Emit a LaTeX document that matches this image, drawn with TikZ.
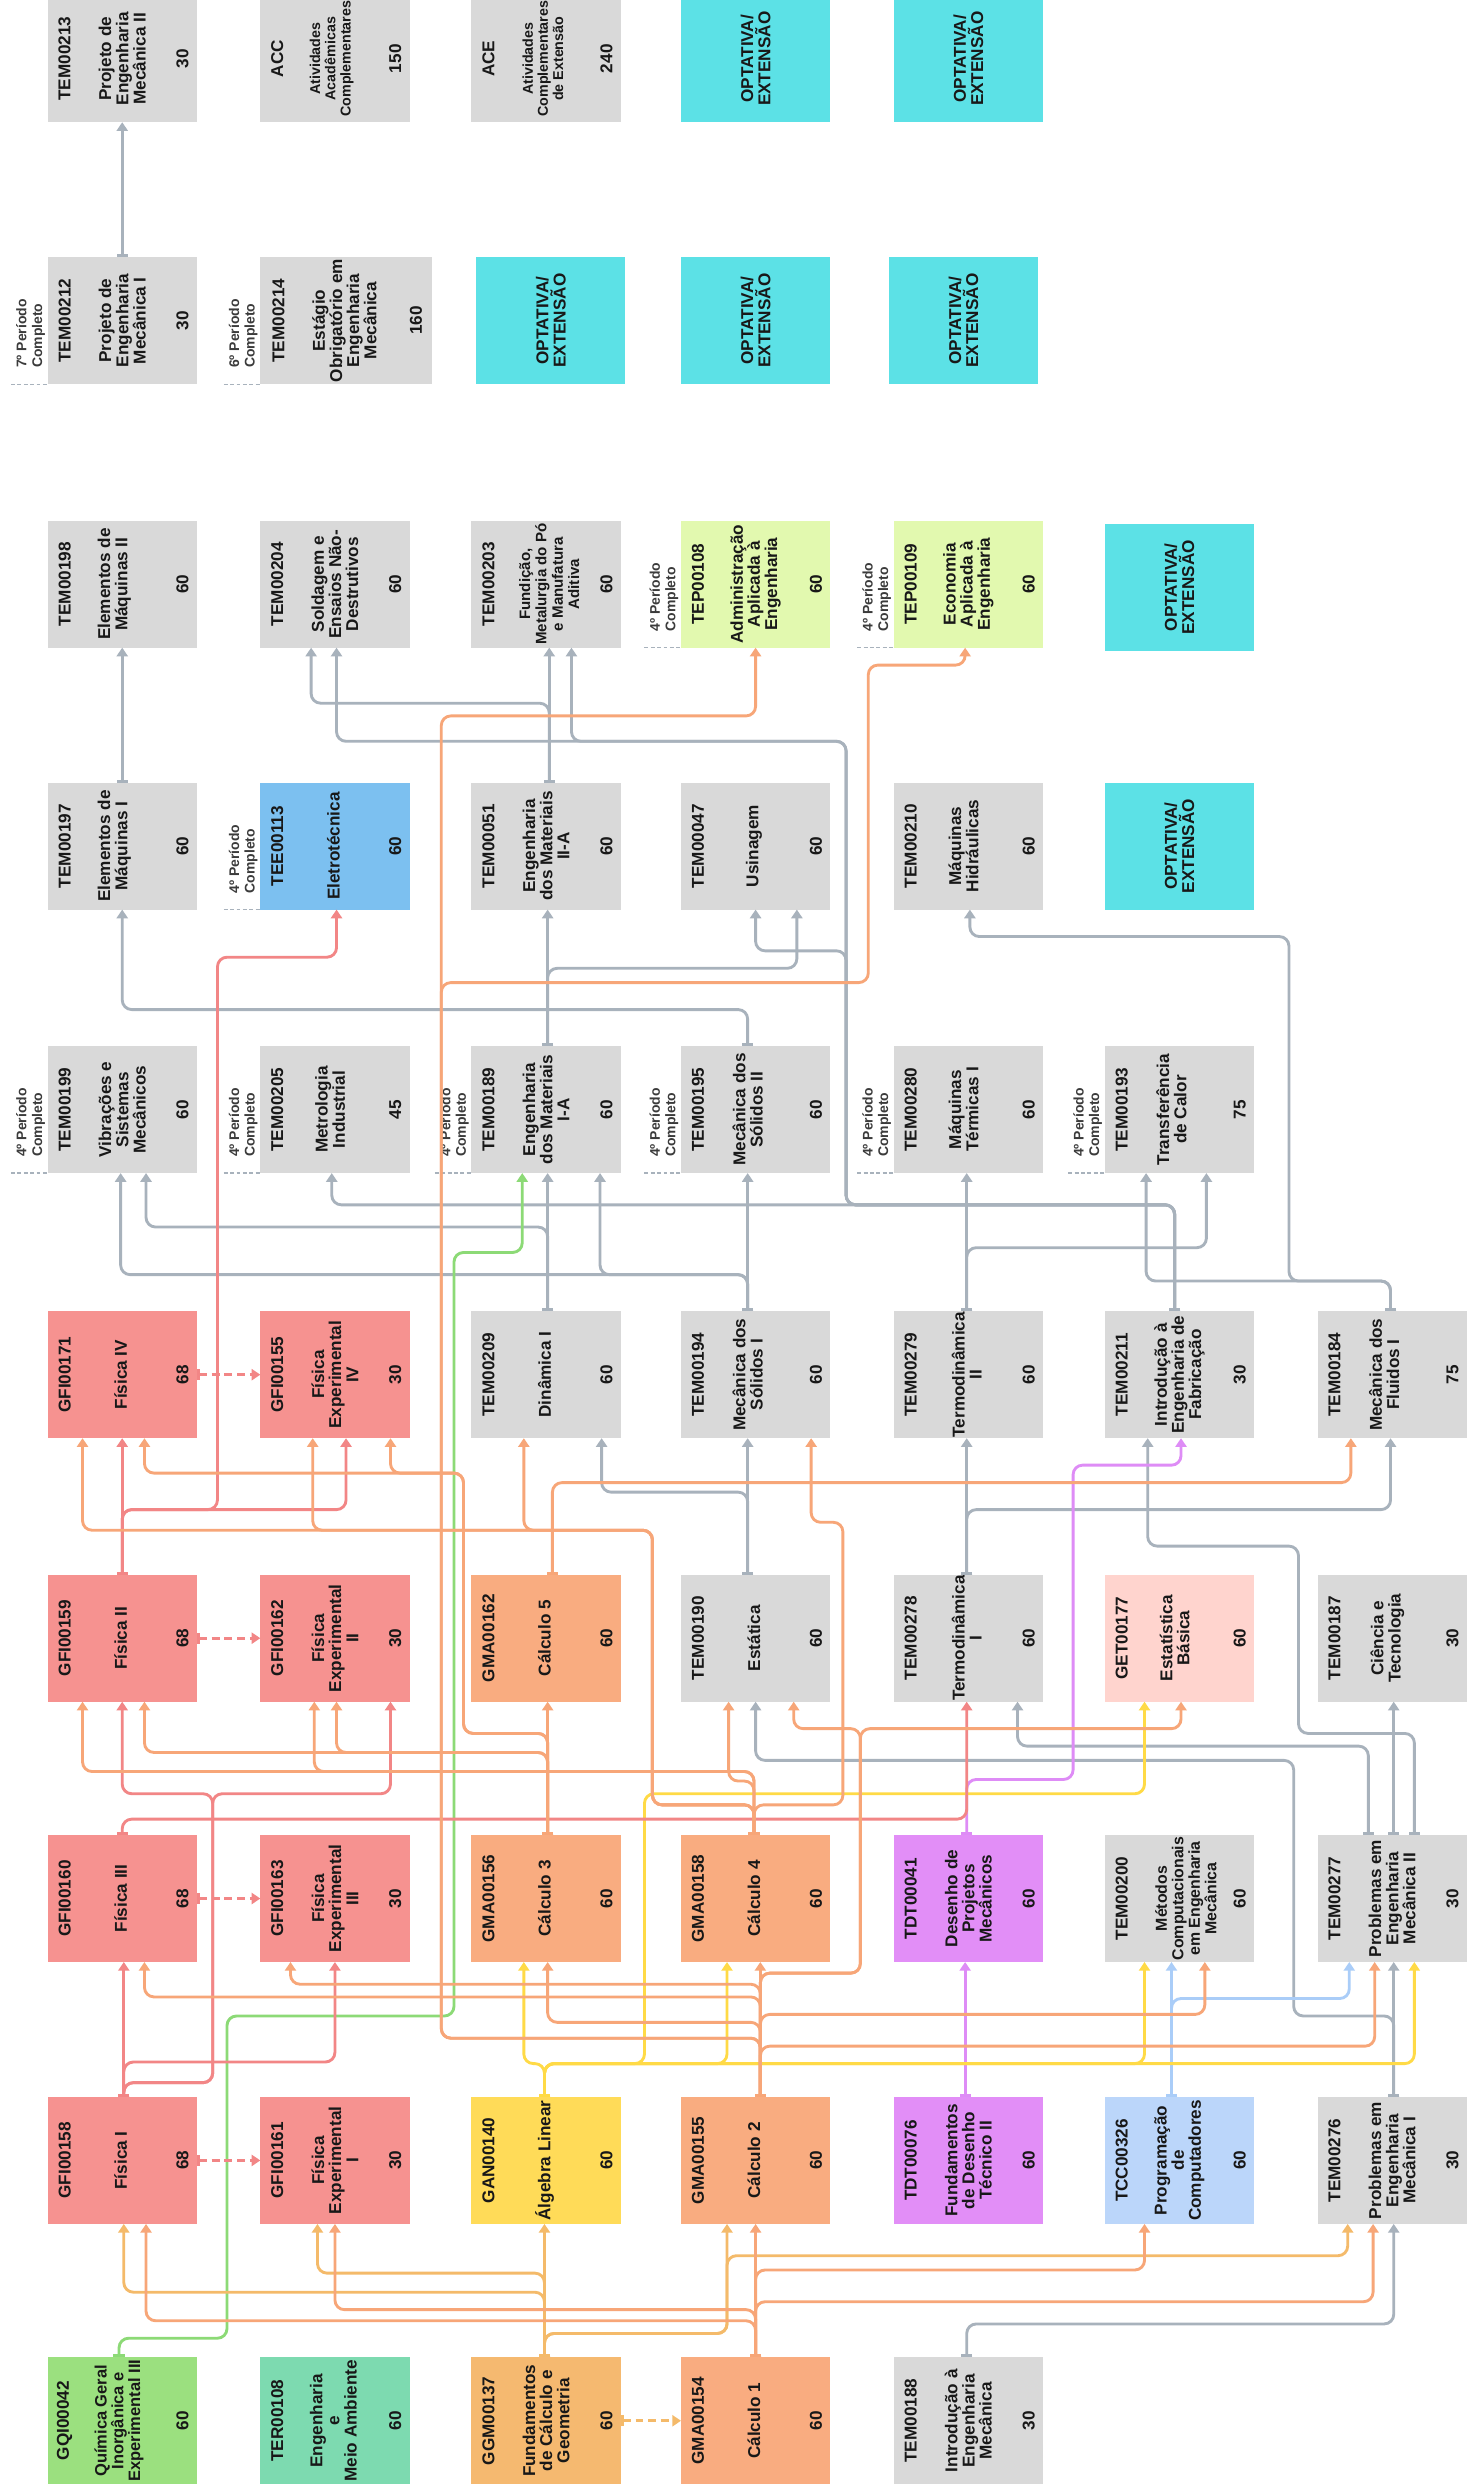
\documentclass[tikz,border=0pt]{standalone}
\usepackage{fontspec}
\setmainfont{Liberation Sans}
\usetikzlibrary{arrows.meta}

\definecolor{ink}{RGB}{24,24,24}
\definecolor{cGrey}{RGB}{217,217,217}
\definecolor{cRed}{RGB}{246,146,144}
\definecolor{cSal}{RGB}{249,172,128}
\definecolor{cAmb}{RGB}{245,185,112}
\definecolor{cYel}{RGB}{255,219,88}
\definecolor{cGrn}{RGB}{155,224,127}
\definecolor{cMint}{RGB}{125,218,176}
\definecolor{cVio}{RGB}{226,142,247}
\definecolor{cLBlu}{RGB}{187,214,250}
\definecolor{cBlu}{RGB}{124,192,240}
\definecolor{cPink}{RGB}{255,212,206}
\definecolor{cLime}{RGB}{226,249,175}
\definecolor{cCyan}{RGB}{92,225,230}
\definecolor{lGrey}{RGB}{168,178,188}
\definecolor{lSal}{RGB}{247,166,120}
\definecolor{lAmb}{RGB}{244,186,106}
\definecolor{lRed}{RGB}{242,134,134}
\definecolor{lYel}{RGB}{255,218,70}
\definecolor{lVio}{RGB}{222,140,246}
\definecolor{lBlu}{RGB}{170,205,248}
\definecolor{lGrn}{RGB}{140,218,118}

\tikzset{
  box/.style={rectangle, inner sep=0pt, outer sep=0pt, minimum width=94pt, minimum height=80pt},
  txt/.style={rotate=90, inner sep=0pt, align=center, text=ink, font=\bfseries\fontsize{10.8}{10.8}\selectfont},
  pclab/.style={rotate=90, inner sep=0pt, align=left, text=ink!85, font=\bfseries\fontsize{8.8}{9.8}\selectfont},
  pcdash/.style={draw=lGrey, line width=0.8pt, dash pattern=on 2.5pt off 1.5pt},
  conn/.style={line width=1.8pt, rounded corners=6pt, arrows={Bar[width=7pt]-Triangle[length=5.5pt,width=7pt]}},
  gline/.style={conn, draw=lGrey},
  sline/.style={conn, draw=lSal},
  aline/.style={conn, draw=lAmb},
  rline/.style={conn, draw=lRed},
  yline/.style={conn, draw=lYel},
  vline/.style={conn, draw=lVio},
  bline/.style={conn, draw=lBlu},
  qline/.style={conn, draw=lGrn},
  rdash/.style={conn, draw=lRed, dash pattern=on 5pt off 3pt},
  adash/.style={conn, draw=lAmb, dash pattern=on 5pt off 3pt},
}

\newcommand\Course[9][]{%
  \node[box,fill=#5] (#2) at (#3,#4) {};
  \node[txt] (#2c) at ([xshift=10.7pt]#2.west) {#6};
  \node[txt,#1] (#2t) at ([xshift=#9pt]#2.west) {#7};
  \node[txt] (#2h) at ([xshift=85pt]#2.west) {#8};
}
\newcommand\PerComp[2]{%
  \node[pclab, anchor=south west] (#1pc) at ([xshift=-1.5pt,yshift=10pt]#1.south west) {#2º Período\\Completo};
  \draw[pcdash] ([xshift=-23pt]#1.south west) -- (#1.south west);
}
\newcommand\Optativa[3]{%
  \node[box,fill=cCyan] (#1) at (#2,#3) {};
  \node[txt] (#1t) at (#1) {OPTATIVA/\\EXTENSÃO};
}

\begin{document}
\begin{tikzpicture}[x=1pt,y=-1pt]
\fill[white] (0,0) rectangle (929,1568);
\useasboundingbox (0,0) rectangle (929,1568);

% ---------- Period 1
\Course[font=\bfseries\fontsize{10.4}{10.6}\selectfont]{QUI}{77}{1525}{cGrn}{GQI00042}{Química Geral\\Inorgânica e\\Experimental III}{60}{45}
\Course{TER}{211}{1525}{cMint}{TER00108}{Engenharia\\e\\Meio Ambiente}{60}{46}
\Course{GGM}{344}{1525}{cAmb}{GGM00137}{Fundamentos\\de Cálculo e\\Geometria}{60}{47}
\Course{C1}{476}{1525}{cSal}{GMA00154}{Cálculo 1}{60}{46}
\Course{IEM}{610}{1525}{cGrey}{TEM00188}{Introdução à\\Engenharia\\Mecânica}{30}{47}
% ---------- Period 2
\Course{F1}{77}{1361}{cRed}{GFI00158}{Física I}{68}{46}
\Course{FE1}{211}{1361}{cRed}{GFI00161}{Física\\Experimental\\I}{30}{47}
\Course{AL}{344}{1361}{cYel}{GAN00140}{Álgebra Linear}{60}{46}
\Course{C2}{476}{1361}{cSal}{GMA00155}{Cálculo 2}{60}{46}
\Course{FDT}{610}{1361}{cVio}{TDT00076}{Fundamentos\\de Desenho\\Técnico II}{60}{47}
\Course{PROG}{743}{1361}{cLBlu}{TCC00326}{Programação\\de\\Computadores}{60}{47}
\Course{PEM1}{877}{1361}{cGrey}{TEM00276}{Problemas em\\Engenharia\\Mecânica I}{30}{47}
% ---------- Period 3
\Course{F3}{77}{1196}{cRed}{GFI00160}{Física III}{68}{46}
\Course{FE3}{211}{1196}{cRed}{GFI00163}{Física\\Experimental\\III}{30}{47}
\Course{C3}{344}{1196}{cSal}{GMA00156}{Cálculo 3}{60}{46}
\Course{C4}{476}{1196}{cSal}{GMA00158}{Cálculo 4}{60}{46}
\Course{DPM}{610}{1196}{cVio}{TDT00041}{Desenho de\\Projetos\\Mecânicos}{60}{47}
\Course[font=\bfseries\fontsize{10}{10.4}\selectfont]{MCEM}{743}{1196}{cGrey}{TEM00200}{Métodos\\Computacionais\\em Engenharia\\Mecânica}{60}{51}
\Course{PEM2}{877}{1196}{cGrey}{TEM00277}{Problemas em\\Engenharia\\Mecânica II}{30}{47}
% ---------- Period 4
\Course{F2}{77}{1032}{cRed}{GFI00159}{Física II}{68}{46}
\Course{FE2}{211}{1032}{cRed}{GFI00162}{Física\\Experimental\\II}{30}{47}
\Course{C5}{344}{1032}{cSal}{GMA00162}{Cálculo 5}{60}{46}
\Course{EST}{476}{1032}{cGrey}{TEM00190}{Estática}{60}{46}
\Course{TD1}{610}{1032}{cGrey}{TEM00278}{Termodinâmica\\I}{60}{46}
\Course{ESTB}{743}{1032}{cPink}{GET00177}{Estatística\\Básica}{60}{44}
\Course{CT}{877}{1032}{cGrey}{TEM00187}{Ciência e\\Tecnologia}{30}{44}
% ---------- Period 5
\Course{F4}{77}{866}{cRed}{GFI00171}{Física IV}{68}{46}
\Course{FE4}{211}{866}{cRed}{GFI00155}{Física\\Experimental\\IV}{30}{47}
\Course{DIN}{344}{866}{cGrey}{TEM00209}{Dinâmica I}{60}{46}
\Course{MS1}{476}{866}{cGrey}{TEM00194}{Mecânica dos\\Sólidos I}{60}{42}
\Course{TD2}{610}{866}{cGrey}{TEM00279}{Termodinâmica\\II}{60}{46}
\Course{IEF}{743}{866}{cGrey}{TEM00211}{Introdução à\\Engenharia de\\Fabricação}{30}{47}
\Course{MF1}{877}{866}{cGrey}{TEM00184}{Mecânica dos\\Fluidos I}{75}{42}
% ---------- Period 6
\Course{VIB}{77}{699}{cGrey}{TEM00199}{Vibrações e\\Sistemas\\Mecânicos}{60}{47}
\Course{MET}{211}{699}{cGrey}{TEM00205}{Metrologia\\Industrial}{45}{44}
\Course{EM1}{344}{699}{cGrey}{TEM00189}{Engenharia\\dos Materiais\\I-A}{60}{47}
\Course{MS2}{476}{699}{cGrey}{TEM00195}{Mecânica dos\\Sólidos II}{60}{42}
\Course{MT1}{610}{699}{cGrey}{TEM00280}{Máquinas\\Térmicas I}{60}{44}
\Course{TC}{743}{699}{cGrey}{TEM00193}{Transferência\\de Calor}{75}{42}
% ---------- Period 7
\Course{EL1}{77}{533}{cGrey}{TEM00197}{Elementos de\\Máquinas I}{60}{42}
\Course{ELT}{211}{533}{cBlu}{TEE00113}{Eletrotécnica}{60}{46}
\Course{EM2}{344}{533}{cGrey}{TEM00051}{Engenharia\\dos Materiais\\II-A}{60}{47}
\Course{USI}{476}{533}{cGrey}{TEM00047}{Usinagem}{60}{46}
\Course{MH}{610}{533}{cGrey}{TEM00210}{Máquinas\\Hidráulicas}{60}{44}
\Optativa{OPA}{743}{533}
% ---------- Period 8
\Course{EL2}{77}{368}{cGrey}{TEM00198}{Elementos de\\Máquinas II}{60}{42}
\Course{SOL}{211}{368}{cGrey}{TEM00204}{Soldagem e\\Ensaios Não-\\Destrutivos}{60}{47}
\Course[font=\bfseries\fontsize{9.5}{10.3}\selectfont]{FUN}{344}{368}{cGrey}{TEM00203}{Fundição,\\Metalurgia do Pó\\e Manufatura\\Aditiva}{60}{49}
\Course{ADM}{476}{368}{cLime}{TEP00108}{Administração\\Aplicada à\\Engenharia}{60}{47}
\Course{ECO}{610}{368}{cLime}{TEP00109}{Economia\\Aplicada à\\Engenharia}{60}{47}
\Optativa{OPB}{743}{370}
% ---------- Period 9
\Course{PJ1}{77}{202}{cGrey}{TEM00212}{Projeto de\\Engenharia\\Mecânica I}{30}{47}
\node[box, fill=cGrey, minimum width=108pt] (ESTG) at (218,202) {};
\node[txt] (ESTGc) at ([xshift=11.5pt]ESTG.west) {TEM00214};
\node[txt] (ESTGt) at ([xshift=53pt]ESTG.west) {Estágio\\Obrigatório em\\Engenharia\\Mecânica};
\node[txt] (ESTGh) at ([xshift=98pt]ESTG.west) {160};
\Optativa{OPC}{347}{202}
\Optativa{OPD}{476}{202}
\Optativa{OPE}{607}{202}
% ---------- Period 10
\Course{PJ2}{77}{37}{cGrey}{TEM00213}{Projeto de\\Engenharia\\Mecânica II}{30}{47}
\Course[font=\bfseries\fontsize{9}{9.6}\selectfont]{ACC}{211}{37}{cGrey}{ACC}{Atividades\\Acadêmicas\\Complementares}{150}{45}
\Course[font=\bfseries\fontsize{9}{9.6}\selectfont]{ACE}{344}{37}{cGrey}{ACE}{Atividades\\Complementares\\de Extensão}{240}{45}
\Optativa{OPF}{476}{37}
\Optativa{OPG}{610}{37}

% ---------- period-complete labels
\PerComp{VIB}{4}
\PerComp{MET}{4}
\PerComp{EM1}{4}
\PerComp{MS2}{4}
\PerComp{MT1}{4}
\PerComp{TC}{4}
\PerComp{ELT}{4}
\PerComp{ADM}{4}
\PerComp{ECO}{4}
\PerComp{PJ1}{7}
\PerComp{ESTG}{6}

% ---------- grey connectors
\draw[gline] (PJ1.north -| 77,0) -- (PJ2.south -| 77,0);
\draw[gline] (EL1.north -| 77,0) -- (EL2.south -| 77,0);
\draw[gline] (MS2.north -| 471,0) -- (471,636) -- (77,636) -- (EL1.south -| 77,0);
\draw[gline] (EM1.north -| 345,0) -- (EM2.south -| 345,0);
\draw[gline] (EM1.north -| 345,0) -- (345,610) -- (502,610) -- (USI.south -| 502,0);
\draw[gline] (EM2.north -| 346,0) -- (FUN.south -| 346,0);
\draw[gline] (EM2.north -| 346,0) -- (346,443) -- (196,443) -- (SOL.south -| 196,0);
\draw[gline] (IEF.north -| 740,0) -- (740,759) -- (533,759) -- (533,467) -- (212,467) -- (SOL.south -| 212,0);
\draw[gline] (IEF.north -| 740,0) -- (740,759) -- (533,759) -- (533,467) -- (360,467) -- (FUN.south -| 360,0);
\draw[gline] (IEF.north -| 740,0) -- (740,759) -- (533,759) -- (533,599) -- (476,599) -- (USI.south -| 476,0);
\draw[gline] (IEF.north -| 740,0) -- (740,759) -- (209,759) -- (MET.south -| 209,0);
\draw[gline] (DIN.north -| 345,0) -- (345,773) -- (92,773) -- (VIB.south -| 92,0);
\draw[gline] (DIN.north -| 345,0) -- (EM1.south -| 345,0);
\draw[gline] (MS1.north -| 471,0) -- (471,803) -- (76,803) -- (VIB.south -| 76,0);
\draw[gline] (MS1.north -| 471,0) -- (471,803) -- (378,803) -- (EM1.south -| 378,0);
\draw[gline] (MS1.north -| 471,0) -- (MS2.south -| 471,0);
\draw[gline] (TD2.north -| 609,0) -- (MT1.south -| 609,0);
\draw[gline] (TD2.north -| 609,0) -- (609,786) -- (760,786) -- (TC.south -| 760,0);
\draw[gline] (MF1.north -| 876,0) -- (876,807) -- (722,807) -- (TC.south -| 722,0);
\draw[gline] (MF1.north -| 876,0) -- (876,807) -- (812,807) -- (812,590) -- (611,590) -- (MH.south -| 611,0);
\draw[gline] (TD1.north -| 609,0) -- (TD2.south -| 609,0);
\draw[gline] (TD1.north -| 609,0) -- (609,951) -- (876,951) -- (MF1.south -| 876,0);
\draw[gline] (EST.north -| 471,0) -- (MS1.south -| 471,0);
\draw[gline] (EST.north -| 471,0) -- (471,940) -- (379,940) -- (DIN.south -| 379,0);
\draw[gline] (PEM2.north -| 878,0) -- (CT.south -| 878,0);
\draw[gline] (PEM2.north -| 891,0) -- (891,1092) -- (818,1092) -- (818,974) -- (723,974) -- (IEF.south -| 723,0);
\draw[gline] (PEM2.north -| 862,0) -- (862,1100) -- (641,1100) -- (TD1.south -| 641,0);
\draw[gline] (PEM1.north -| 878,0) -- (PEM2.south -| 878,0);
\draw[gline] (PEM1.north -| 878,0) -- (878,1270) -- (815,1270) -- (815,1109) -- (476,1109) -- (EST.south -| 476,0);
\draw[gline] (IEM.north -| 609,0) -- (609,1464) -- (878,1464) -- (PEM1.south -| 878,0);

% ---------- blue, violet, green
\draw[bline] (PROG.north -| 738,0) -- (MCEM.south -| 738,0);
\draw[bline] (PROG.north -| 738,0) -- (738,1259) -- (850,1259) -- (PEM2.south -| 850,0);
\draw[vline] (FDT.north -| 608,0) -- (DPM.south -| 608,0);
\draw[vline] (DPM.north -| 609,0) -- (609,1121) -- (676,1121) -- (676,923) -- (744,923) -- (IEF.south -| 744,0);
\draw[qline] (QUI.north -| 75,0) -- (75,1473) -- (143,1473) -- (143,1270) -- (286,1270) -- (286,789) -- (329,789) -- (EM1.south -| 329,0);

% ---------- yellow (Algebra Linear)
\draw[yline] (AL.north -| 343,0) -- (343,1300) -- (330,1300) -- (C3.south -| 330,0);
\draw[yline] (AL.north -| 343,0) -- (343,1300) -- (458,1300) -- (C4.south -| 458,0);
\draw[yline] (AL.north -| 343,0) -- (343,1300) -- (721,1300) -- (MCEM.south -| 721,0);
\draw[yline] (AL.north -| 343,0) -- (343,1300) -- (891,1300) -- (PEM2.south -| 891,0);
\draw[yline] (AL.north -| 343,0) -- (343,1300) -- (406,1300) -- (406,1130) -- (721,1130) -- (ESTB.south -| 721,0);

% ---------- red (Fisica)
\draw[rline] (F1.north -| 78,0) -- (F3.south -| 78,0);
\draw[rline] (F1.north -| 78,0) -- (78,1299) -- (211,1299) -- (FE3.south -| 211,0);
\draw[rline] (F1.north -| 78,0) -- (78,1312) -- (134,1312) -- (134,1130) -- (77,1130) -- (F2.south -| 77,0);
\draw[rline] (F1.north -| 78,0) -- (78,1312) -- (134,1312) -- (134,1130) -- (246,1130) -- (FE2.south -| 246,0);
\draw[rline] (F2.north -| 77,0) -- (F4.south -| 77,0);
\draw[rline] (F2.north -| 77,0) -- (77,951) -- (218,951) -- (FE4.south -| 218,0);
\draw[rline] (F2.north -| 77,0) -- (77,951) -- (137,951) -- (137,603) -- (212,603) -- (ELT.south -| 212,0);
\draw[rline] (F3.north -| 77,0) -- (77,1146) -- (609,1146) -- (TD1.south -| 609,0);
\draw[rdash] (F1.east) -- (FE1.west);
\draw[rdash] (F3.east) -- (FE3.west);
\draw[rdash] (F2.east) -- (FE2.west);
\draw[rdash] (F4.east) -- (FE4.west);

% ---------- amber (GGM00137)
\draw[adash] (GGM.east) -- (C1.west);
\draw[aline] (GGM.north -| 343,0) -- (AL.south -| 343,0);
\draw[aline] (GGM.north -| 343,0) -- (343,1432) -- (200,1432) -- (FE1.south -| 200,0);
\draw[aline] (GGM.north -| 343,0) -- (343,1444) -- (78,1444) -- (F1.south -| 78,0);
\draw[aline] (GGM.north -| 343,0) -- (343,1470) -- (458,1470) -- (C2.south -| 458,0);
\draw[aline] (GGM.north -| 343,0) -- (343,1470) -- (458,1470) -- (458,1421) -- (849,1421) -- (PEM1.south -| 849,0);

% ---------- salmon (Calculo)
\draw[sline] (C1.north -| 476,0) -- (C2.south -| 476,0);
\draw[sline] (C1.north -| 476,0) -- (476,1455) -- (211,1455) -- (FE1.south -| 211,0);
\draw[sline] (C1.north -| 476,0) -- (476,1462) -- (92,1462) -- (F1.south -| 92,0);
\draw[sline] (C1.north -| 476,0) -- (476,1430) -- (721,1430) -- (PROG.south -| 721,0);
\draw[sline] (C1.north -| 476,0) -- (476,1450) -- (865,1450) -- (PEM1.south -| 865,0);

\draw[sline] (C2.north -| 479,0) -- (C4.south -| 479,0);
\draw[sline] (C2.north -| 479,0) -- (479,1250) -- (183,1250) -- (FE3.south -| 183,0);
\draw[sline] (C2.north -| 479,0) -- (479,1258) -- (91,1258) -- (F3.south -| 91,0);
\draw[sline] (C2.north -| 479,0) -- (479,1274) -- (345,1274) -- (C3.south -| 345,0);
\draw[sline] (C2.north -| 479,0) -- (479,1284) -- (278,1284) -- (278,451) -- (476,451) -- (ADM.south -| 476,0);
\draw[sline] (C2.north -| 479,0) -- (479,1284) -- (278,1284) -- (278,619) -- (547,619) -- (547,419) -- (608,419) -- (ECO.south -| 608,0);
\draw[sline] (C2.north -| 479,0) -- (479,1269) -- (759,1269) -- (MCEM.south -| 759,0);
\draw[sline] (C2.north -| 479,0) -- (479,1289) -- (866,1289) -- (PEM2.south -| 866,0);
\draw[sline] (C2.north -| 479,0) -- (479,1243) -- (542,1243) -- (542,1089) -- (500,1089) -- (EST.south -| 500,0);
\draw[sline] (C2.north -| 479,0) -- (479,1243) -- (542,1243) -- (542,1089) -- (744,1089) -- (ESTB.south -| 744,0);

\draw[sline] (C3.north -| 345,0) -- (C5.south -| 345,0);
\draw[sline] (C3.north -| 345,0) -- (345,1092) -- (292,1092) -- (292,928) -- (91,928) -- (F4.south -| 91,0);
\draw[sline] (C3.north -| 345,0) -- (345,1092) -- (292,1092) -- (292,928) -- (246,928) -- (FE4.south -| 246,0);
\draw[sline] (C3.north -| 345,0) -- (345,1104) -- (91,1104) -- (F2.south -| 91,0);
\draw[sline] (C3.north -| 345,0) -- (345,1104) -- (212,1104) -- (FE2.south -| 212,0);

\draw[sline] (C4.north -| 475,0) -- (475,1122) -- (459,1122) -- (EST.south -| 459,0);
\draw[sline] (C4.north -| 475,0) -- (475,1116) -- (52,1116) -- (F2.south -| 52,0);
\draw[sline] (C4.north -| 475,0) -- (475,1116) -- (198,1116) -- (FE2.south -| 198,0);
\draw[sline] (C4.north -| 475,0) -- (475,1137) -- (411,1137) -- (411,964) -- (52,964) -- (F4.south -| 52,0);
\draw[sline] (C4.north -| 475,0) -- (475,1137) -- (411,1137) -- (411,964) -- (197,964) -- (FE4.south -| 197,0);
\draw[sline] (C4.north -| 475,0) -- (475,1137) -- (411,1137) -- (411,964) -- (330,964) -- (DIN.south -| 330,0);
\draw[sline] (C4.north -| 475,0) -- (475,1137) -- (531,1137) -- (531,959) -- (511,959) -- (MS1.south -| 511,0);

\draw[sline] (C5.north -| 348,0) -- (348,934) -- (851,934) -- (MF1.south -| 851,0);
\end{tikzpicture}
\end{document}
